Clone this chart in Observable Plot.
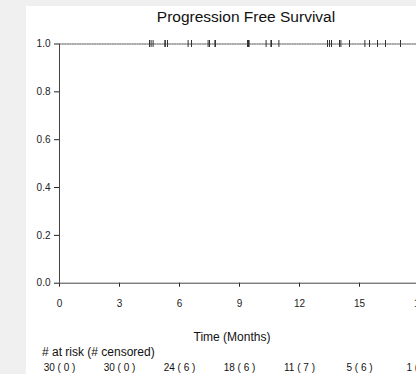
<!DOCTYPE html>
<html><head><meta charset="utf-8">
<script src="https://cdn.jsdelivr.net/npm/d3@7"></script>
<script src="https://cdn.jsdelivr.net/npm/@observablehq/plot@0.6"></script>
<style>
html,body{margin:0;padding:0;background:#f0f0f0;width:416px;height:374px;overflow:hidden;font-family:"Liberation Sans",Arial,sans-serif;}
#panel{position:absolute;left:26px;top:6px;width:390px;height:368px;background:#fff;overflow:hidden;}
.lbl{position:absolute;white-space:nowrap;color:#111;}
#title{font-size:15.5px;left:0;top:2px;width:440px;text-align:center;}
#xlab{font-size:12px;left:0;width:412px;text-align:center;top:324px;}
#risk{font-size:12px;left:16px;top:339px;}
#chart{position:absolute;left:0;top:0;width:480px;height:368px;}
#chart svg{max-width:none !important;}
</style></head>
<body>
<div id="panel">
  <div id="chart"></div>
  <div class="lbl" id="title">Progression Free Survival</div>
  <div class="lbl" id="xlab">Time (Months)</div>
  <div class="lbl" id="risk"># at risk (# censored)</div>
</div>
<script>
const xTicks = [0, 3, 6, 9, 12, 15, 18];
const yTicks = [0, 0.2, 0.4, 0.6, 0.8, 1.0];
const survTimes = [0, 20];
const survValues = [1, 1];
const censorTimes = [4.5, 4.58, 4.68, 5.27, 5.29, 5.4, 6.43, 6.6, 7.43, 7.5, 7.77, 7.8,
  9.4, 9.45, 9.48, 10.33, 10.57, 10.6, 10.97, 13.4, 13.5, 13.6, 14.0, 14.07, 14.5,
  15.27, 15.5, 15.9, 16.3, 17.05];
const atRisk = [30, 30, 24, 18, 11, 5, 1];
const censored = [0, 0, 6, 6, 7, 6, 4];

const surv = survTimes.map((t, i) => ({t, s: survValues[i]}));
const risk = xTicks.map((t, i) => ({t, label: `${atRisk[i]} ( ${censored[i]} )`}));

const W = 480, H = 368, mL = 33, mT = 37.5, mB = 91.3;
const chart = Plot.plot({
  width: W, height: H,
  marginLeft: mL, marginRight: 0, marginTop: mT, marginBottom: mB,
  style: {fontFamily: '"Liberation Sans", Arial, sans-serif', fontSize: "10px", color: "#222", background: "transparent", overflow: "visible", maxWidth: "none"},
  x: {domain: [0, (W - mL) / 20], ticks: xTicks, tickSize: 4, tickPadding: 13, label: null, tickFormat: d3.format("d")},
  y: {domain: [0, 1], ticks: yTicks, tickSize: 5, tickPadding: 4, label: null, tickFormat: d3.format(".1f")},
  marks: [
    Plot.ruleY([0], {stroke: "#444"}),
    Plot.ruleX([0], {stroke: "#444"}),
    Plot.line(surv, {x: "t", y: "s", stroke: "#555", strokeWidth: 1, strokeDasharray: "1.5,1"}),
    Plot.ruleX(censorTimes, {x: d => d, y1: 1, y2: 1, insetTop: -3.5, insetBottom: -3.5, stroke: "#333", strokeWidth: 1}),
    Plot.text(risk, {x: "t", text: "label", frameAnchor: "bottom", dy: 87.5, fontSize: 10, fill: "#111"})
  ]
});
document.getElementById("chart").appendChild(chart);
</script>
</body></html>
